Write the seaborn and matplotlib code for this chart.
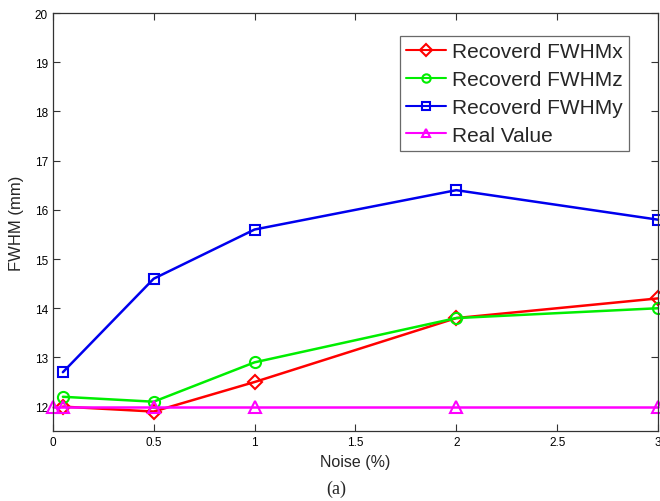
import matplotlib
matplotlib.use("Agg")
import matplotlib.pyplot as plt
import seaborn as sns
import numpy as np

sns.set_style("ticks")
plt.rcParams['font.family'] = ['Liberation Sans', 'DejaVu Sans']

noise = [0.05, 0.5, 1, 2, 3]
fwhm_x = [12.0, 11.9, 12.5, 13.8, 14.2]
fwhm_z = [12.2, 12.1, 12.9, 13.8, 14.0]
fwhm_y = [12.7, 14.6, 15.6, 16.4, 15.8]
noise_real = [0, 0.05, 0.5, 1, 2, 3]
real_val = [12, 12, 12, 12, 12, 12]

fig = plt.figure(figsize=(6.6, 5.02), dpi=100)
ax = fig.add_axes([0.080, 0.139, 0.917, 0.833])

series = [
    (noise, fwhm_x, "Recoverd FWHMx", "#ff0000", "D", 7),
    (noise, fwhm_z, "Recoverd FWHMz", "#00ee00", "o", 8),
    (noise, fwhm_y, "Recoverd FWHMy", "#0000ee", "s", 7.5),
    (noise_real, real_val, "Real Value", "#ff00ff", "^", 8),
]
for xs, ys, lab, col, mk, ms in series:
    sns.lineplot(x=xs, y=ys, ax=ax, label=lab, color=col, marker=mk,
                 markersize=ms, markerfacecolor='none', markeredgecolor=col,
                 markeredgewidth=1.5, linewidth=1.8, clip_on=False)

ax.set_xlim(0, 3)
ax.set_ylim(11.5, 20)
ax.set_xticks([0, 0.5, 1, 1.5, 2, 2.5, 3])
ax.set_xticklabels(["0", "0.5", "1", "1.5", "2", "2.5", "3"])
ax.set_yticks(range(12, 21))
ax.tick_params(direction='in', length=5, width=0.8, labelsize=8.5,
               top=True, right=True, colors='#333333', labelcolor='black')
for sp in ax.spines.values():
    sp.set_visible(True)
    sp.set_color('#333333')
    sp.set_linewidth(0.9)

ax.set_xlabel("Noise (%)", fontsize=11.5, labelpad=4)
ax.set_ylabel("FWHM (mm)", fontsize=12, labelpad=8)
fig.text(0.51, 0.025, "(a)", ha='center', va='center', fontsize=13,
         family=['Liberation Serif', 'DejaVu Serif'])

leg = ax.legend(loc='upper right', bbox_to_anchor=(0.952, 0.945), fontsize=15,
                frameon=True, fancybox=False, edgecolor='#444444',
                borderpad=0.3, labelspacing=0.42, handlelength=1.9,
                handletextpad=0.3, borderaxespad=0)
leg.get_frame().set_linewidth(0.9)
for h in leg.get_lines():
    h.set_markersize(6)
    h.set_linewidth(1.5)

fig.savefig("out.png", dpi=100)
